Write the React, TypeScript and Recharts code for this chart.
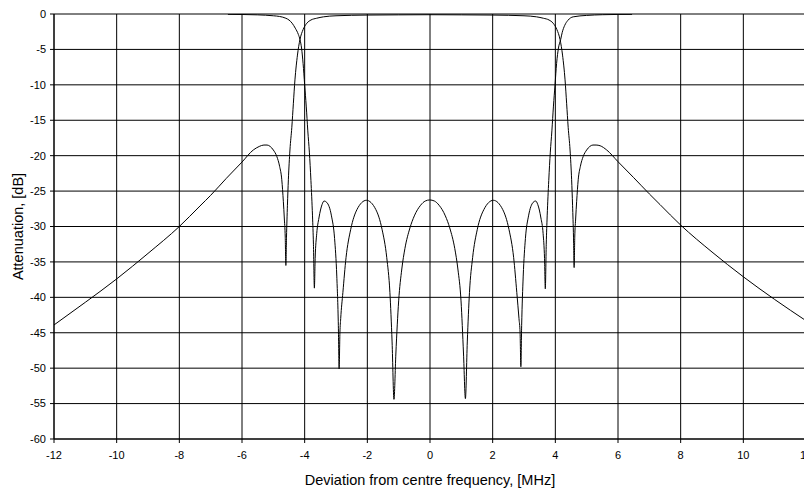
import React from "react";
import { LineChart, Line, XAxis, YAxis, CartesianGrid } from "recharts";

const xTicks = [-12, -10, -8, -6, -4, -2, 0, 2, 4, 6, 8, 10, 12];
const yTicks = [0, -5, -10, -15, -20, -25, -30, -35, -40, -45, -50, -55, -60];

// Transmission response (x in MHz, y in dB)
const s21X = [
  -12, -11, -10, -9, -8, -7.34, -7, -6.5, -6, -5.64, -5.45, -5.3, -5.2, -5.1, -5.0, -4.89, -4.8, -4.73,
  -4.68, -4.65, -4.62, -4.6, -4.58, -4.55, -4.52, -4.47, -4.41, -4.36, -4.31, -4.23, -4.15, -4.05, -3.93,
  -3.8, -3.62, -3.4, -3.0, -2, -1, 0, 1, 2, 3.0, 3.4, 3.62, 3.8, 3.93, 4.05, 4.15, 4.23, 4.31, 4.36, 4.41,
  4.47, 4.52, 4.55, 4.58, 4.6, 4.62, 4.65, 4.68, 4.73, 4.8, 4.89, 5.0, 5.1, 5.2, 5.3, 5.43, 5.64, 6, 6.5,
  7, 7.34, 8, 9, 10, 11, 12,
];
const s21Y = [
  -43.9, -40.7, -37.4, -33.8, -30.0, -27.1, -25.6, -23.2, -20.9, -19.2, -18.7, -18.5, -18.5, -18.7, -19.2,
  -20.1, -21.5, -23.4, -26.5, -28.8, -31.5, -35.5, -31.5, -27.0, -23.4, -19.2, -16.0, -12.6, -9.3, -5.8,
  -3.6, -2.2, -1.3, -0.85, -0.6, -0.4, -0.25, -0.15, -0.12, -0.1, -0.12, -0.15, -0.25, -0.4, -0.6, -0.85,
  -1.3, -2.2, -3.6, -5.8, -9.3, -12.6, -16.0, -19.2, -23.4, -27.0, -31.5, -35.8, -31.5, -28.8, -26.5,
  -23.4, -21.5, -20.1, -19.2, -18.7, -18.5, -18.5, -18.6, -19.2, -20.85, -23.1, -25.4, -26.9, -29.8,
  -33.6, -37.1, -40.3, -43.3,
];

// Reflection response (x in MHz, y in dB)
const s11X = [
  -6.45, -6.0, -5.5, -5.0, -4.8, -4.6, -4.5, -4.4, -4.3, -4.2, -4.15, -4.1, -4.05, -4.0, -3.95, -3.9,
  -3.85, -3.8, -3.75, -3.72, -3.69, -3.665, -3.615, -3.545, -3.445, -3.38, -3.295, -3.145, -3.045,
  -2.975, -2.925, -2.9, -2.875, -2.85, -2.78, -2.68, -2.53, -2.33, -2.03, -1.73, -1.53, -1.38, -1.28,
  -1.21, -1.15, -1.09, -1.0, -0.9, -0.8, -0.64, -0.5, -0.3, -0.15, -0.01, 0.14, 0.29, 0.49, 0.63, 0.79,
  0.89, 0.99, 1.07, 1.13, 1.19, 1.26, 1.36, 1.51, 1.72, 2.02, 2.32, 2.52, 2.67, 2.77, 2.84, 2.875, 2.9,
  2.925, 2.975, 3.045, 3.145, 3.29, 3.37, 3.44, 3.54, 3.61, 3.655, 3.68, 3.71, 3.74, 3.79, 3.84, 3.89,
  3.94, 3.99, 4.04, 4.1, 4.17, 4.22, 4.3, 4.4, 4.57, 5.0, 5.5, 6.0, 6.45,
];
const s11Y = [
  -0.05, -0.07, -0.12, -0.25, -0.35, -0.6, -0.85, -1.3, -2.0, -2.9, -3.6, -4.8, -7.0, -10.0, -13.0,
  -16.5, -19.5, -23.5, -28.5, -32.5, -38.7, -34.5, -31.0, -28.8, -26.9, -26.4, -26.6, -28.5, -31.7,
  -37.0, -44.0, -50.1, -45.0, -43.0, -39.3, -34.4, -30.4, -27.6, -26.3, -27.6, -30.4, -34.4, -39.3,
  -46.3, -54.4, -48.0, -40.5, -36.0, -33.1, -30.2, -28.5, -27.0, -26.4, -26.25, -26.4, -27.0, -28.5,
  -30.2, -33.1, -36.0, -40.5, -48.0, -54.3, -46.3, -39.3, -34.4, -30.4, -27.6, -26.3, -27.6, -30.4,
  -34.4, -39.3, -43.0, -45.0, -49.8, -44.0, -37.0, -31.7, -28.5, -26.6, -26.4, -26.9, -28.8, -31.0,
  -34.5, -38.8, -32.5, -28.5, -23.5, -19.5, -16.5, -13.0, -10.0, -7.0, -4.8, -3.6, -2.6, -1.6, -0.9,
  -0.4, -0.2, -0.1, -0.06, -0.05,
];

const s21Data = s21X.map((x, i) => ({ x, y: s21Y[i] }));
const s11Data = s11X.map((x, i) => ({ x, y: s11Y[i] }));

const FONT = "'Liberation Sans', Arial, sans-serif";

export default function App() {
  return (
    <LineChart
      width={804}
      height={483}
      margin={{ top: 6, right: 6, left: 0, bottom: 0 }}
    >
      <CartesianGrid stroke="#000" strokeWidth={1} />
      <XAxis
        dataKey="x"
        type="number"
        domain={[-12, 12]}
        ticks={xTicks}
        allowDataOverflow
        height={52}
        stroke="#000"
        tickSize={4}
        tickMargin={8}
        tick={{ fontSize: 11, fill: "#000", fontFamily: FONT }}
        label={{
          value: "Deviation from centre frequency, [MHz]",
          position: "insideBottom",
          offset: 6,
          style: { fontSize: 14.5, fill: "#000", fontFamily: FONT },
        }}
      />
      <YAxis
        type="number"
        domain={[-60, 0]}
        ticks={yTicks}
        allowDataOverflow
        width={46}
        stroke="#000"
        tickSize={4}
        tickMargin={4}
        tick={{ fontSize: 11, fill: "#000", fontFamily: FONT }}
        label={(props: any) => {
          const vb = props.viewBox || { x: 0, y: 6, width: 46, height: 425 };
          const cx = 10;
          const cy = vb.y + vb.height / 2;
          return (
            <text
              x={cx}
              y={cy}
              transform={`rotate(-90, ${cx}, ${cy})`}
              textAnchor="middle"
              dominantBaseline="central"
              style={{ fontSize: 14.5, fill: "#000", fontFamily: FONT }}
            >
              Attenuation, [dB]
            </text>
          );
        }}
      />
      <Line
        data={s21Data}
        dataKey="y"
        type="monotone"
        stroke="#000"
        strokeWidth={1}
        dot={false}
        isAnimationActive={false}
      />
      <Line
        data={s11Data}
        dataKey="y"
        type="monotone"
        stroke="#000"
        strokeWidth={1}
        dot={false}
        isAnimationActive={false}
      />
    </LineChart>
  );
}
